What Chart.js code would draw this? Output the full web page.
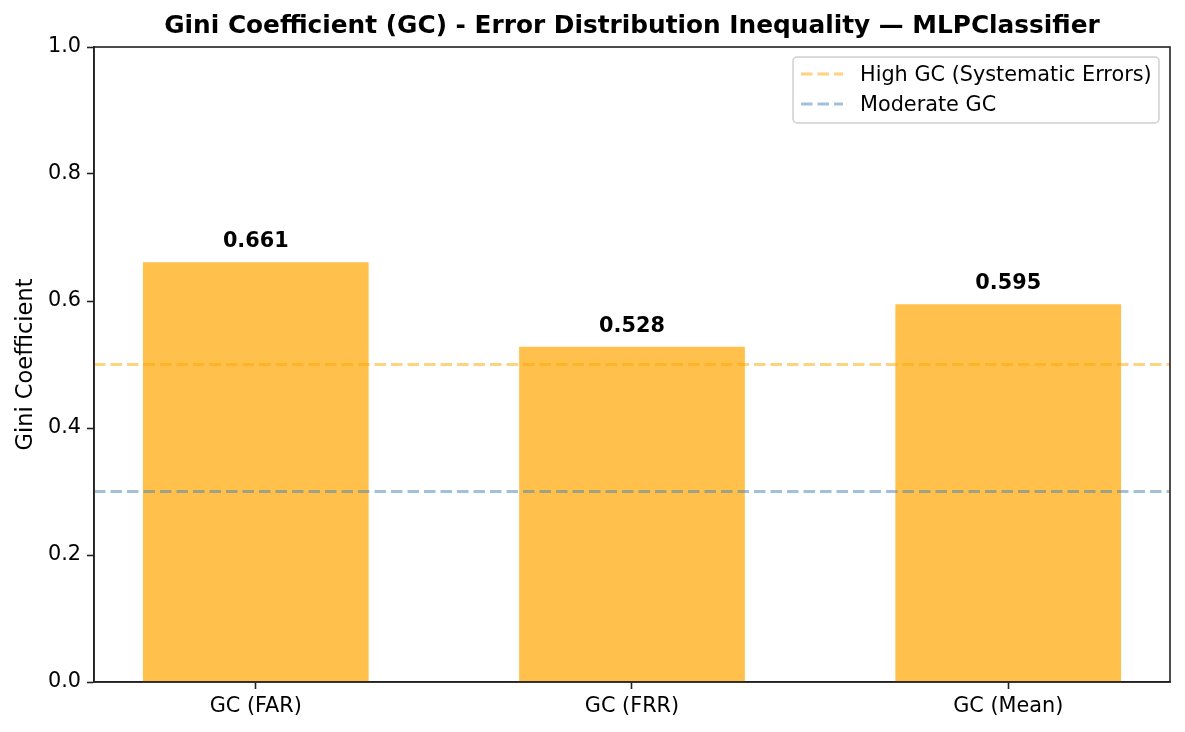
<!DOCTYPE html>
<html>
<head>
<meta charset="utf-8">
<script src="https://cdn.jsdelivr.net/npm/chart.js@4/dist/chart.umd.min.js"></script>
<style>
  html, body { margin: 0; padding: 0; background: #fff; }
  #wrap { width: 1185px; height: 732px; }
</style>
</head>
<body>
<div id="wrap"><canvas id="gini-chart" width="1185" height="732"></canvas></div>
<script>
var categories = ['GC (FAR)', 'GC (FRR)', 'GC (Mean)'];
var giniValues = [0.661, 0.528, 0.595];
var thresholdValues = [0.5, 0.3];
var thresholdLabels = ['High GC (Systematic Errors)', 'Moderate GC'];
var yTicks = [0, 0.2, 0.4, 0.6, 0.8, 1.0];

var xMin = -0.43, xMax = 2.43;
var fontFamily = '"DejaVu Sans", sans-serif';
var thresholdColors = ['rgba(255, 165, 0, 0.5)', 'rgba(70, 130, 180, 0.5)'];

var barData = giniValues.map(function (v, i) { return { x: i, y: v }; });

var datasets = [{
    type: 'bar',
    label: 'Gini',
    data: barData,
    backgroundColor: 'rgba(255, 165, 0, 0.7)',
    borderWidth: 0,
    barPercentage: 0.6,
    categoryPercentage: 1,
    order: 2
}];
thresholdValues.forEach(function (t, i) {
    datasets.push({
        type: 'line',
        label: thresholdLabels[i],
        data: [{ x: xMin, y: t }, { x: xMax, y: t }],
        borderColor: thresholdColors[i],
        borderWidth: 3,
        borderDash: [11.5, 5],
        pointRadius: 0,
        fill: false,
        order: 0
    });
});

var decorPlugin = {
    id: 'decor',
    afterDatasetsDraw: function (chart) {
        var ctx = chart.ctx;
        var area = chart.chartArea;
        var meta = chart.getDatasetMeta(0);

        // value labels over bars
        ctx.save();
        ctx.fillStyle = '#000';
        ctx.font = 'bold 20.8px ' + fontFamily;
        ctx.textAlign = 'center';
        ctx.textBaseline = 'bottom';
        meta.data.forEach(function (bar, i) {
            ctx.fillText(giniValues[i].toFixed(3), bar.x, bar.y - 10);
        });
        ctx.restore();

        // spines
        ctx.save();
        ctx.strokeStyle = '#222';
        ctx.lineWidth = 1.6;
        ctx.strokeRect(area.left, area.top, area.right - area.left, area.bottom - area.top);
        ctx.restore();

        // title
        ctx.save();
        ctx.fillStyle = '#000';
        ctx.font = 'bold 24.8px ' + fontFamily;
        ctx.textAlign = 'center';
        ctx.textBaseline = 'middle';
        ctx.fillText('Gini Coefficient (GC) - Error Distribution Inequality \u2014 MLPClassifier', (area.left + area.right) / 2, 27);
        ctx.restore();

        // y axis title
        ctx.save();
        ctx.fillStyle = '#000';
        ctx.font = '22.5px ' + fontFamily;
        ctx.textAlign = 'center';
        ctx.textBaseline = 'middle';
        ctx.translate(26, (area.top + area.bottom) / 2);
        ctx.rotate(-Math.PI / 2);
        ctx.fillText('Gini Coefficient', 0, 0);
        ctx.restore();

        // legend
        var bx = 793, by = 57, bw = 366, bh = 66;
        ctx.save();
        ctx.fillStyle = 'rgba(255,255,255,0.8)';
        ctx.strokeStyle = '#d0d0d0';
        ctx.lineWidth = 1.5;
        ctx.beginPath();
        ctx.roundRect(bx, by, bw, bh, 4);
        ctx.fill();
        ctx.stroke();
        ctx.font = '20.8px ' + fontFamily;
        ctx.textBaseline = 'middle';
        ctx.textAlign = 'left';
        thresholdLabels.forEach(function (lbl, i) {
            var ly = by + 17 + i * 30;
            ctx.strokeStyle = thresholdColors[i];
            ctx.lineWidth = 3;
            ctx.setLineDash([11.5, 5]);
            ctx.beginPath();
            ctx.moveTo(801, ly);
            ctx.lineTo(843, ly);
            ctx.stroke();
            ctx.setLineDash([]);
            ctx.fillStyle = '#000';
            ctx.fillText(lbl, 860, ly + 2);
        });
        ctx.restore();
    }
};

var ctxGini = document.getElementById('gini-chart').getContext('2d');
var chartGini = new Chart(ctxGini, {
    data: { datasets: datasets },
    options: {
        responsive: false,
        animation: false,
        devicePixelRatio: 1,
        layout: { padding: { left: 0, right: 15, top: 47, bottom: 0 } },
        plugins: {
            legend: { display: false },
            title: { display: false },
            tooltip: { enabled: false }
        },
        scales: {
            x: {
                type: 'linear',
                min: xMin,
                max: xMax,
                offset: false,
                afterBuildTicks: function (scale) {
                    scale.ticks = categories.map(function (c, i) { return { value: i }; });
                },
                afterFit: function (scale) { scale.height = 50; },
                ticks: {
                    color: '#000',
                    font: { family: fontFamily, size: 20.8 },
                    padding: 5,
                    maxRotation: 0,
                    autoSkip: false,
                    callback: function (value) { return categories[value]; }
                },
                grid: { offset: false, drawOnChartArea: false, tickLength: 7, tickColor: '#222', tickWidth: 1.6 },
                border: { color: '#222', width: 1.6 }
            },
            y: {
                min: 0,
                max: 1,
                afterBuildTicks: function (scale) {
                    scale.ticks = yTicks.map(function (v) { return { value: v }; });
                },
                afterFit: function (scale) { scale.width = 94; },
                ticks: {
                    color: '#000',
                    font: { family: fontFamily, size: 20.8 },
                    padding: 6,
                    callback: function (value) { return Number(value).toFixed(1); }
                },
                grid: { drawOnChartArea: false, tickLength: 7, tickColor: '#222', tickWidth: 1.6 },
                border: { color: '#222', width: 1.6 }
            }
        }
    },
    plugins: [decorPlugin]
});
</script>
</body>
</html>
